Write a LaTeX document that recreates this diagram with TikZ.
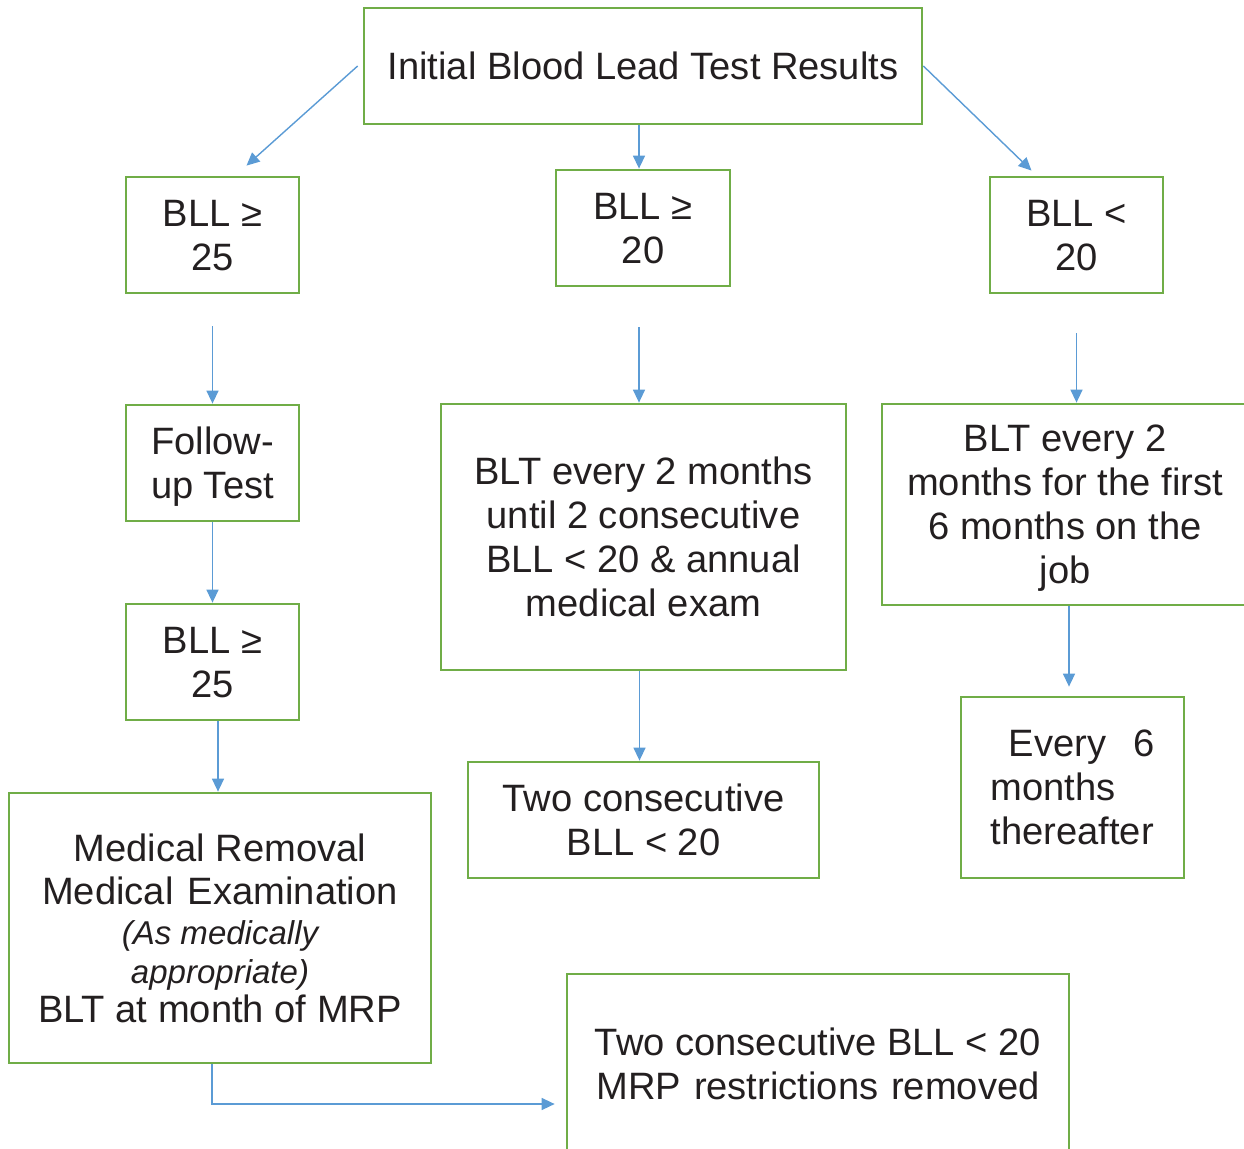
\documentclass[tikz,border=0pt]{standalone}
\usepackage{fontspec}
\setmainfont{Liberation Sans}
\usepackage{tikz}
\usetikzlibrary{positioning}
\usetikzlibrary{arrows.meta}
\usetikzlibrary{calc}
\definecolor{boxGreen}{HTML}{70AD47}
\definecolor{arrBlue}{HTML}{5B9BD5}
\definecolor{txtGray}{HTML}{231F20}
\tikzstyle{flowBox} = [draw=boxGreen, line width=1.6pt, inner sep=0pt, align=center, text=txtGray,
    text depth=0pt, font=\fontsize{21.7pt}{25pt}\selectfont]
\tikzstyle{flowArr} = [draw=arrBlue, line width=0.8pt, -{Triangle[length=0.26cm,width=0.24cm]}]
\newcommand{\smallIt}[1]{{\fontsize{18.8pt}{22pt}\selectfont\itshape #1}}

\begin{document}
\begin{tikzpicture}[x=0.02cm,y=-0.02cm]
                    \useasboundingbox (0,0) rectangle (1244,1149);
                    \clip (0,0) rectangle (1244,1149);
                    \node at (643,66)      [flowBox,minimum width=11.16cm,minimum height=2.32cm] (nInit)  {Initial Blood Lead Test Results};
                    \node at (212.5,235)   [flowBox,minimum width=3.46cm ,minimum height=2.32cm] (nB25)   {BLL ≥\\25};
                    \node at (643,228)     [flowBox,minimum width=3.48cm ,minimum height=2.32cm] (nB20)   {BLL ≥\\20};
                    \node at (1076.5,235)  [flowBox,minimum width=3.46cm ,minimum height=2.32cm] (nL20)   {BLL <\\20};
                    \node at (212.5,463)   [flowBox,minimum width=3.46cm ,minimum height=2.32cm] (nFU)    {Follow-\\up Test};
                    \node at (643.5,537)   [flowBox,minimum width=8.10cm ,minimum height=5.32cm] (nTwoMo) {BLT every 2 months\\until 2 consecutive\\BLL < 20 \& annual\\medical exam};
                    \node at (1065,504.5)  [flowBox,minimum width=7.32cm ,minimum height=4.02cm] (nFirst) {BLT every 2\\months for the first\\6 months on the\\job};
                    \node at (212.5,662)   [flowBox,minimum width=3.46cm ,minimum height=2.32cm] (nB25b)  {BLL ≥\\25};
                    \node at (643.5,820)   [flowBox,minimum width=7.02cm ,minimum height=2.32cm] (nCons)  {Two consecutive\\BLL < 20};
                    \node at (1072.5,787.5)[flowBox,minimum width=4.46cm ,minimum height=3.62cm,align=left] (nSix) {\hspace{0.36cm}Every\hspace{0.54cm}6\\months\\thereafter};
                    \node at (220,928)     [flowBox,minimum width=8.44cm ,minimum height=5.40cm] (nMRP)   {Medical Removal\\Medical\hspace{0.38em}Examination\\[-2.5pt]\smallIt{(As medically}\\[-3pt]\smallIt{appropriate)}\\[-2.5pt]BLT at month of MRP};
                    \node at (818,1063.5)  [flowBox,minimum width=10.04cm,minimum height=3.58cm] (nEnd)   {Two consecutive BLL < 20\\MRP\hspace{0.34em}restrictions\hspace{0.34em}removed};
                    % connectors
                    \draw[flowArr] ([xshift=-0.1cm]nInit.west)    -- ($(nB25.north)+(34,-10)$);
                    \draw[flowArr] ([xshift=-0.08cm]nInit.south)  -- ([xshift=-0.08cm]nB20.north);
                    \draw[flowArr] (nInit.east)                    -- ($(nL20.north)+(-45,-5)$);
                    \draw[flowArr,shorten <=0.64cm] (nB25.south)   -- (nFU.north);
                    \draw[flowArr,shorten <=0.80cm] ([xshift=-0.08cm]nB20.south) -- ([xshift=-0.08cm]nB20.south |- nTwoMo.north);
                    \draw[flowArr,shorten <=0.78cm] (nL20.south)   -- (nL20.south |- nFirst.north);
                    \draw[flowArr] (nFU.south)                     -- (nB25b.north);
                    \draw[flowArr] ([xshift=0.08cm]nFirst.south)   -- ([xshift=0.08cm,yshift=0.18cm]nFirst.south |- nSix.north);
                    \draw[flowArr] ([xshift=0.11cm]nB25b.south)    -- ([xshift=0.11cm]nB25b.south |- nMRP.north);
                    \draw[flowArr] ([xshift=-0.08cm]nTwoMo.south)  -- ([xshift=-0.08cm]nTwoMo.south |- nCons.north);
                    \draw[flowArr] ([xshift=-0.16cm]nMRP.south)    |- ($(nEnd.west)+(-11,40.5)$);
                \end{tikzpicture}
\end{document}
